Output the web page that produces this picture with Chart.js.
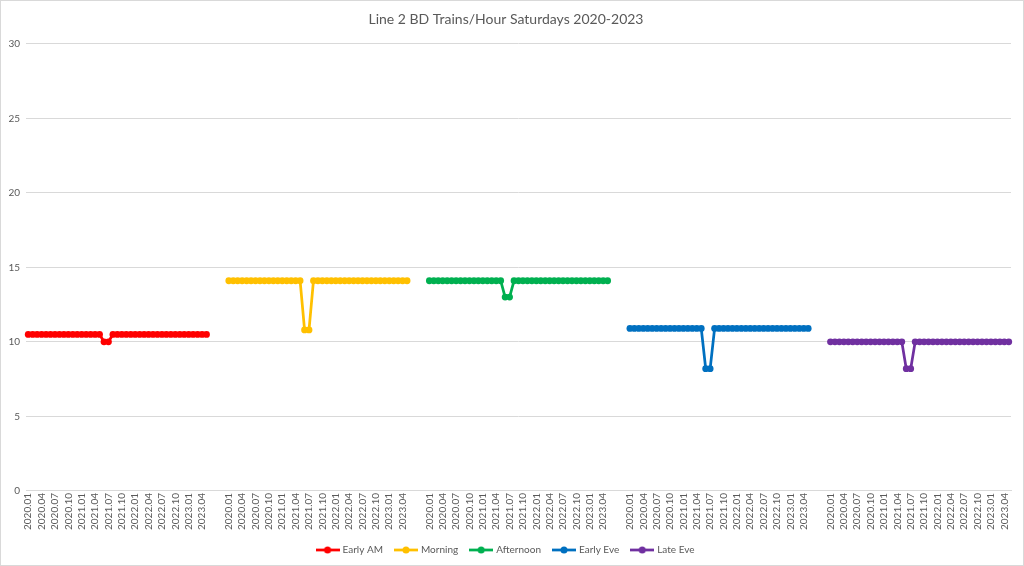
<!DOCTYPE html>
<html>
<head>
<meta charset="utf-8">
<script src="https://cdn.jsdelivr.net/npm/chart.js@4"></script>
<style>
  html,body{margin:0;padding:0;background:#fff;}
  #wrap{width:1024px;height:566px;box-sizing:border-box;border:1px solid #d9d9d9;position:relative;}
  canvas{display:block;}
</style>
</head>
<body>
<div id="wrap"><canvas id="c" width="1022" height="564"></canvas></div>
<script>
const chartTitle = 'Line 2 BD Trains/Hour Saturdays 2020-2023';
const months = ['2020.01','2020.02','2020.03','2020.04','2020.05','2020.06','2020.07','2020.08','2020.09','2020.10','2020.11','2020.12',
  '2021.01','2021.02','2021.03','2021.04','2021.05','2021.06','2021.07','2021.08','2021.09','2021.10','2021.11','2021.12',
  '2022.01','2022.02','2022.03','2022.04','2022.05','2022.06','2022.07','2022.08','2022.09','2022.10','2022.11','2022.12',
  '2023.01','2023.02','2023.03','2023.04','2023.05'];
const seriesNames = ['Early AM','Morning','Afternoon','Early Eve','Late Eve'];
const seriesColors = ['#FF0000','#FFC000','#00B050','#0070C0','#7030A0'];
const yTicks = [0,5,10,15,20,25,30];

const earlyAM = [10.5,10.5,10.5,10.5,10.5,10.5,10.5,10.5,10.5,10.5,10.5,10.5,10.5,10.5,10.5,10.5,10.5,10.0,10.0,
  10.5,10.5,10.5,10.5,10.5,10.5,10.5,10.5,10.5,10.5,10.5,10.5,10.5,10.5,10.5,10.5,10.5,10.5,10.5,10.5,10.5,10.5];
const morning = [14.1,14.1,14.1,14.1,14.1,14.1,14.1,14.1,14.1,14.1,14.1,14.1,14.1,14.1,14.1,14.1,14.1,10.8,10.8,
  14.1,14.1,14.1,14.1,14.1,14.1,14.1,14.1,14.1,14.1,14.1,14.1,14.1,14.1,14.1,14.1,14.1,14.1,14.1,14.1,14.1,14.1];
const afternoon = [14.1,14.1,14.1,14.1,14.1,14.1,14.1,14.1,14.1,14.1,14.1,14.1,14.1,14.1,14.1,14.1,14.1,13.0,13.0,
  14.1,14.1,14.1,14.1,14.1,14.1,14.1,14.1,14.1,14.1,14.1,14.1,14.1,14.1,14.1,14.1,14.1,14.1,14.1,14.1,14.1,14.1];
const earlyEve = [10.9,10.9,10.9,10.9,10.9,10.9,10.9,10.9,10.9,10.9,10.9,10.9,10.9,10.9,10.9,10.9,10.9,8.2,8.2,
  10.9,10.9,10.9,10.9,10.9,10.9,10.9,10.9,10.9,10.9,10.9,10.9,10.9,10.9,10.9,10.9,10.9,10.9,10.9,10.9,10.9,10.9];
const lateEve = [10.0,10.0,10.0,10.0,10.0,10.0,10.0,10.0,10.0,10.0,10.0,10.0,10.0,10.0,10.0,10.0,10.0,8.2,8.2,
  10.0,10.0,10.0,10.0,10.0,10.0,10.0,10.0,10.0,10.0,10.0,10.0,10.0,10.0,10.0,10.0,10.0,10.0,10.0,10.0,10.0,10.0];
const gapSize = 4; // blank categories between groups

const seriesValues = [earlyAM, morning, afternoon, earlyEve, lateEve];

// Build the combined category axis: each group of months followed by blank categories
const allLabels = [];
seriesValues.forEach((s, g) => {
  months.forEach(m => allLabels.push(m));
  if (g < seriesValues.length - 1) for (let k = 0; k < gapSize; k++) allLabels.push('');
});
const groupLen = months.length + gapSize;

const datasets = seriesValues.map((vals, g) => {
  const data = new Array(allLabels.length).fill(null);
  vals.forEach((v, i) => { data[g * groupLen + i] = v; });
  return {
    label: seriesNames[g],
    data: data,
    borderColor: seriesColors[g],
    backgroundColor: seriesColors[g],
    borderWidth: 2.75,
    pointRadius: 3.4,
    pointHoverRadius: 3.4,
    pointBorderWidth: 0,
    spanGaps: false,
    tension: 0
  };
});

function legendIcon(color) {
  const c = document.createElement('canvas');
  c.width = 24; c.height = 8;
  const ctx = c.getContext('2d');
  ctx.strokeStyle = color; ctx.lineWidth = 2.75;
  ctx.beginPath(); ctx.moveTo(0, 4); ctx.lineTo(24, 4); ctx.stroke();
  ctx.fillStyle = color;
  ctx.beginPath(); ctx.arc(12, 4, 3.5, 0, Math.PI * 2); ctx.fill();
  return c;
}
const icons = seriesColors.map(legendIcon);

const FONT = 'Lato, "Liberation Sans", sans-serif';
new Chart(document.getElementById('c'), {
  type: 'line',
  data: { labels: allLabels, datasets: datasets },
  options: {
    responsive: false,
    animation: false,
    layout: { padding: { top: 10, right: 12, left: 0, bottom: 0 } },
    plugins: {
      title: {
        display: true, text: chartTitle, color: '#595959',
        font: { family: FONT, size: 14, weight: 'normal' },
        padding: { top: 0, bottom: 16 }
      },
      legend: {
        position: 'bottom',
        labels: {
          color: '#595959',
          font: { family: FONT, size: 10 },
          usePointStyle: true,
          pointStyleWidth: 20,
          boxWidth: 20, boxHeight: 8,
          padding: 13,
          generateLabels: (chart) => {
            return chart.data.datasets.map((ds, i) => ({
              text: ds.label,
              fillStyle: ds.borderColor,
              strokeStyle: ds.borderColor,
              lineWidth: 0,
              pointStyle: icons[i],
              hidden: false,
              datasetIndex: i,
              fontColor: '#595959'
            }));
          }
        }
      },
      tooltip: { enabled: false }
    },
    scales: {
      x: {
        type: 'category',
        offset: true,
        grid: { display: false, drawTicks: false },
        border: { display: true, color: '#d9d9d9' },
        ticks: {
          autoSkip: false,
          maxRotation: 90, minRotation: 90,
          color: '#595959',
          font: { family: FONT, size: 10 },
          padding: 2,
          callback: function (value, index) {
            return index % 3 === 0 ? allLabels[index] : '';
          }
        }
      },
      y: {
        min: 0, max: 30,
        afterFit: (s) => { s.width = 25; },
        afterBuildTicks: (s) => { s.ticks = yTicks.map(v => ({ value: v })); },
        grid: { color: '#d9d9d9', drawTicks: false },
        border: { display: false },
        ticks: {
          color: '#595959',
          font: { family: FONT, size: 10 },
          padding: 6
        }
      }
    }
  }
});
</script>
</body>
</html>
